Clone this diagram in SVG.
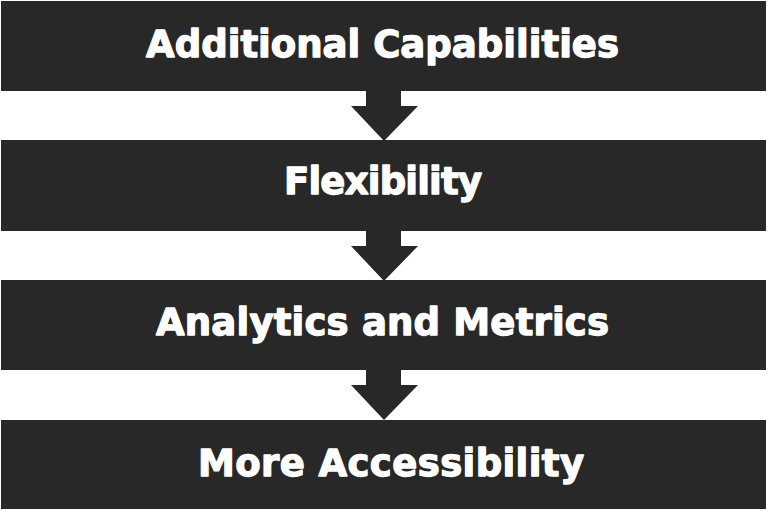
<svg xmlns="http://www.w3.org/2000/svg" width="768" height="516" viewBox="0 0 768 516">
<style>
.bar{fill:#282828}
.arr{fill:#282828}
.lbl{font-family:"DejaVu Sans",sans-serif;font-weight:bold;font-size:37px;fill:#ffffff;stroke:#ffffff;stroke-width:1.3px;stroke-linejoin:round;text-anchor:middle}
</style>
<rect width="768" height="516" fill="#ffffff"/>
<g id="connectors">
<polygon class="arr" points="366,88 401,88 401,106 418,106 384,141 351,106 366,106"/>
<polygon class="arr" points="366,228 401,228 401,246 418,246 384,281 351,246 366,246"/>
<polygon class="arr" points="366,367 401,367 401,385 418,385 384,420 351,385 366,385"/>
</g>
<g id="node1">
<rect class="bar" x="1" y="1" width="765" height="90"/>
<text class="lbl" x="382.5" y="57" textLength="473" lengthAdjust="spacing">Additional Capabilities</text>
</g>
<g id="node2">
<rect class="bar" x="1" y="140" width="765" height="91"/>
<text class="lbl" x="383" y="194" textLength="198" lengthAdjust="spacing">Flexibility</text>
</g>
<g id="node3">
<rect class="bar" x="1" y="280" width="765" height="90"/>
<text class="lbl" x="382.5" y="335" textLength="453" lengthAdjust="spacing">Analytics and Metrics</text>
</g>
<g id="node4">
<rect class="bar" x="1" y="420" width="765" height="89"/>
<text class="lbl" x="391" y="476" textLength="386" lengthAdjust="spacing">More Accessibility</text>
</g>
</svg>
